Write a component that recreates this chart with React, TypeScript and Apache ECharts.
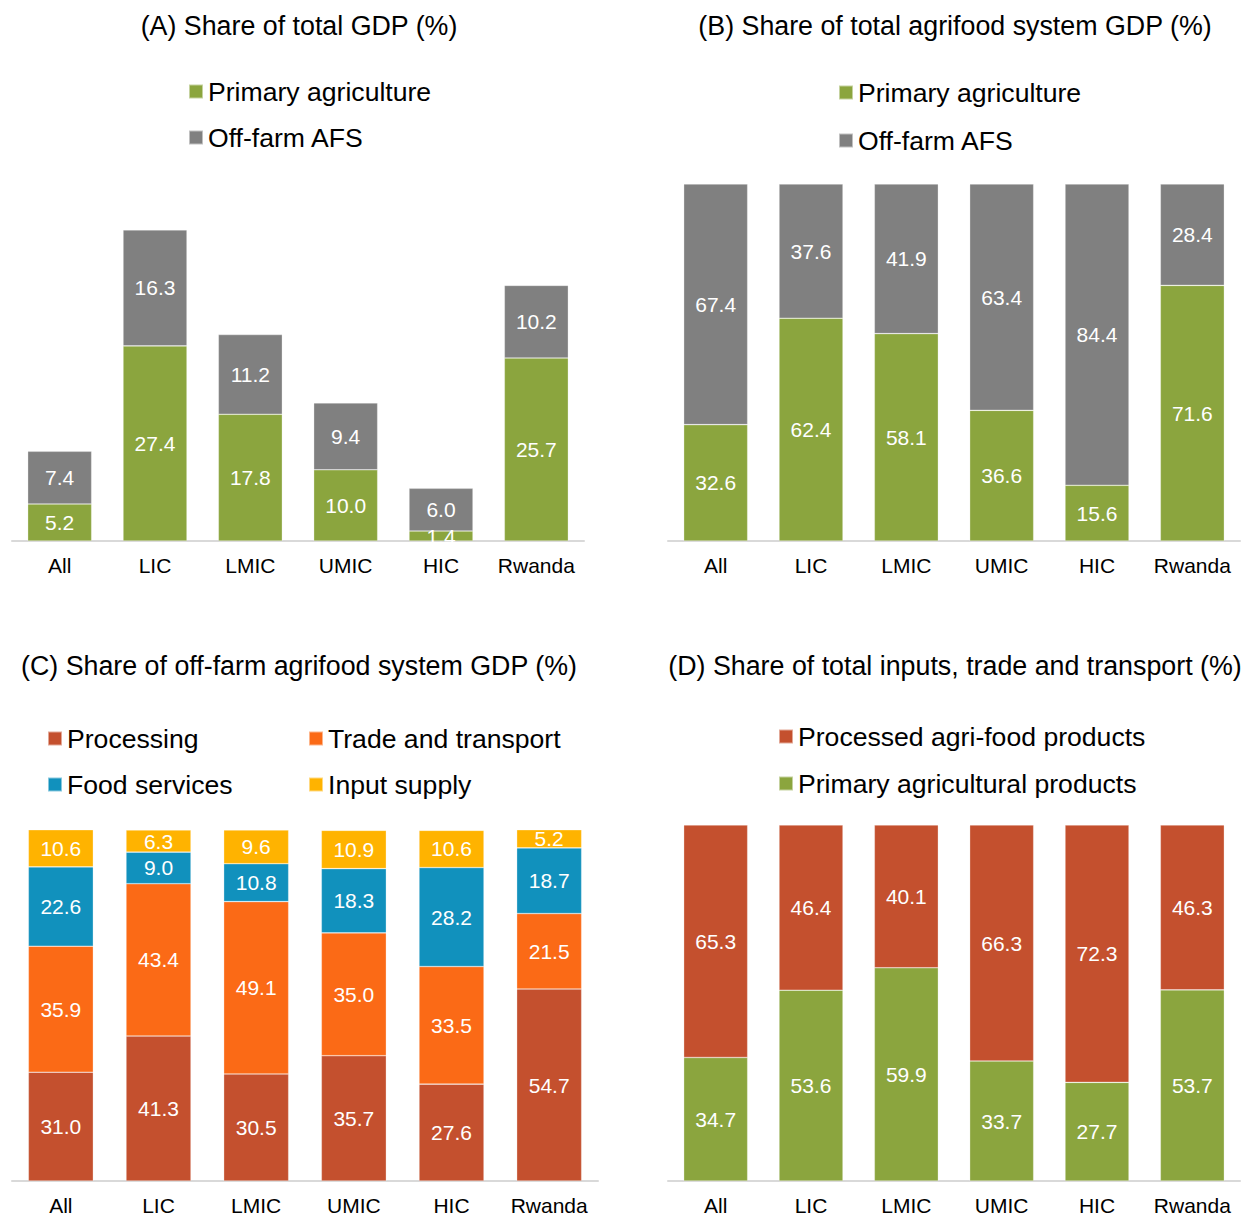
import React, { useEffect, useRef } from "react";
import * as echarts from "echarts";

const categories = ["All", "LIC", "LMIC", "UMIC", "HIC", "Rwanda"];

// (A) Share of total GDP (%)
const aPrimary = [5.2, 27.4, 17.8, 10.0, 1.4, 25.7];
const aOffFarm = [7.4, 16.3, 11.2, 9.4, 6.0, 10.2];

// (B) Share of total agrifood system GDP (%)
const bPrimary = [32.6, 62.4, 58.1, 36.6, 15.6, 71.6];
const bOffFarm = [67.4, 37.6, 41.9, 63.4, 84.4, 28.4];

// (C) Share of off-farm agrifood system GDP (%)
const cProcessing = [31.0, 41.3, 30.5, 35.7, 27.6, 54.7];
const cTrade = [35.9, 43.4, 49.1, 35.0, 33.5, 21.5];
const cFood = [22.6, 9.0, 10.8, 18.3, 28.2, 18.7];
const cInput = [10.6, 6.3, 9.6, 10.9, 10.6, 5.2];

// (D) Share of total inputs, trade and transport (%)
const dPrimary = [34.7, 53.6, 59.9, 33.7, 27.7, 53.7];
const dProcessed = [65.3, 46.4, 40.1, 66.3, 72.3, 46.3];

const titles = [
  "(A) Share of total GDP (%)",
  "(B) Share of total agrifood system GDP (%)",
  "(C) Share of off-farm agrifood system GDP (%)",
  "(D) Share of total inputs, trade and transport (%)",
];

const FONT = "'Liberation Sans', Arial, sans-serif";
const GREEN = "#8BA53E";
const GRAY = "#808080";
const RED = "#C4502E";
const ORANGE = "#FB6A16";
const BLUE = "#1191BD";
const YELLOW = "#FFB300";

export default function App() {
  const ref = useRef<HTMLDivElement>(null);

  useEffect(() => {
    if (!ref.current) return;
    const chart = echarts.init(ref.current, undefined, { renderer: "svg" });

    const label = {
      show: true,
      position: "inside",
      color: "#ffffff",
      fontSize: 21,
      fontFamily: FONT,
      formatter: (p: any) => Number(p.value).toFixed(1),
    };

    const mkSeries = (
      name: string,
      data: number[],
      color: string,
      idx: number,
      stack: string,
      barWidth: number
    ) => ({
      type: "bar",
      name,
      data,
      stack,
      xAxisIndex: idx,
      yAxisIndex: idx,
      barWidth,
      itemStyle: { color, borderColor: "rgba(255,255,255,0.5)", borderWidth: 0.6 },
      label,
      emphasis: { disabled: true },
    });

    const grids = [
      { left: 12, top: 185, width: 572, height: 356 },
      { left: 668, top: 184, width: 572, height: 357 },
      { left: 12, top: 830, width: 586, height: 351 },
      { left: 668, top: 825, width: 572, height: 356 },
    ];
    const maxes = [50, 100, 100, 100];

    const legendBase = {
      orient: "vertical",
      icon: "rect",
      itemWidth: 14,
      itemHeight: 14,
      padding: 0,
      selectedMode: false,
      textStyle: { fontSize: 26.6, lineHeight: 26, color: "#000", fontFamily: FONT },
    };

    chart.setOption({
      animation: false,
      backgroundColor: "#ffffff",
      grid: grids,
      xAxis: grids.map((_, i) => ({
        type: "category",
        gridIndex: i,
        data: categories,
        axisLine: { show: true, lineStyle: { color: "#D9D9D9", width: 2 } },
        axisTick: { show: false },
        axisLabel: { color: "#000", fontSize: 21, fontFamily: FONT, margin: 14, interval: 0 },
      })),
      yAxis: grids.map((_, i) => ({
        type: "value",
        gridIndex: i,
        min: 0,
        max: maxes[i],
        show: false,
        splitLine: { show: false },
      })),
      legend: [
        { ...legendBase, left: 188, top: 78, itemGap: 19, data: ["Primary agriculture", "Off-farm AFS"] },
        { ...legendBase, left: 838, top: 79, itemGap: 21, data: ["Primary agriculture", "Off-farm AFS"] },
        { ...legendBase, left: 47, top: 725, itemGap: 19, data: ["Processing", "Food services"] },
        { ...legendBase, left: 308, top: 725, itemGap: 19, data: ["Trade and transport", "Input supply"] },
        {
          ...legendBase,
          left: 778,
          top: 723,
          itemGap: 20,
          data: ["Processed agri-food products", "Primary agricultural products"],
        },
      ],
      graphic: [
        { x: 299, y: 26 },
        { x: 955, y: 26 },
        { x: 299, y: 666 },
        { x: 955, y: 666 },
      ].map((p, i) => ({
        type: "text",
        x: p.x,
        y: p.y,
        style: {
          text: titles[i],
          fontSize: 26.8,
          fontFamily: FONT,
          fill: "#000",
          align: "center",
          verticalAlign: "middle",
        },
      })),
      series: [
        mkSeries("Primary agriculture", aPrimary, GREEN, 0, "a", 64),
        mkSeries("Off-farm AFS", aOffFarm, GRAY, 0, "a", 64),
        mkSeries("Primary agriculture", bPrimary, GREEN, 1, "b", 64),
        mkSeries("Off-farm AFS", bOffFarm, GRAY, 1, "b", 64),
        mkSeries("Processing", cProcessing, RED, 2, "c", 65),
        mkSeries("Trade and transport", cTrade, ORANGE, 2, "c", 65),
        mkSeries("Food services", cFood, BLUE, 2, "c", 65),
        mkSeries("Input supply", cInput, YELLOW, 2, "c", 65),
        mkSeries("Primary agricultural products", dPrimary, GREEN, 3, "d", 64),
        mkSeries("Processed agri-food products", dProcessed, RED, 3, "d", 64),
      ],
    });

    return () => chart.dispose();
  }, []);

  return (
    <div
      ref={ref}
      style={{ position: "absolute", left: 0, top: 0, width: 1242, height: 1217 }}
    />
  );
}
